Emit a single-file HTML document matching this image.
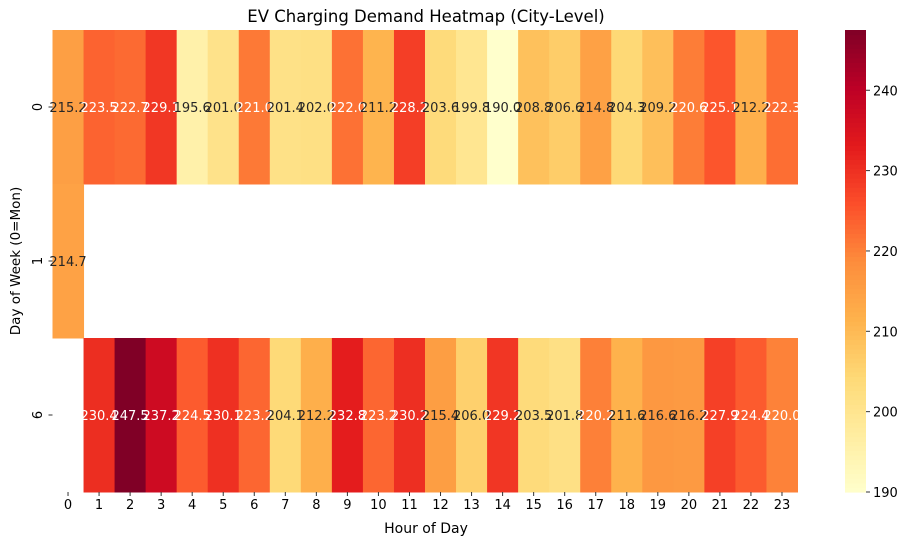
<!DOCTYPE html>
<html><head><meta charset="utf-8"><style>
body{margin:0;background:#fff;}
svg text{font-family:"DejaVu Sans","Liberation Sans",sans-serif;}
</style></head><body>
<svg id="chart" width="912" height="545" xmlns="http://www.w3.org/2000/svg">
<text x="426" y="22" text-anchor="middle" font-size="16.5">EV Charging Demand Heatmap (City-Level)</text>
<text x="426" y="533" text-anchor="middle" font-size="14">Hour of Day</text>
<text x="20" y="261" text-anchor="middle" font-size="13.5" transform="rotate(-90 20 261)">Day of Week (0=Mon)</text>
<g id="cells"></g><g id="xt"></g><g id="yt"></g><g id="cb"></g>
</svg>
<script>
const hours=[0,1,2,3,4,5,6,7,8,9,10,11,12,13,14,15,16,17,18,19,20,21,22,23];
const days=["0","1","6"];
const row0=[215.2,223.5,222.7,229.1,195.6,201.0,221.0,201.4,202.0,222.0,211.2,228.2,203.6,199.8,190.0,208.8,206.6,214.8,204.3,209.2,220.6,225.1,212.2,222.3];
const row1=[214.7,null,null,null,null,null,null,null,null,null,null,null,null,null,null,null,null,null,null,null,null,null,null,null];
const row6=[null,230.4,247.5,237.2,224.5,230.1,223.2,204.1,212.2,232.8,223.2,230.2,215.4,206.0,229.2,203.5,201.8,220.2,211.6,216.6,216.2,227.9,224.4,220.0];
const values=[row0,row1,row6];
const cbTicks=[190,200,210,220,230,240];
const vmin=190,vmax=247.5;
const L=52.5,R=797.5,T=30,B=492;
const cw=(R-L)/hours.length, rh=(B-T)/days.length;
const xPos=i=>L+i*cw, yPos=j=>T+j*rh;
const stops=["#ffffcc","#ffeda0","#fed976","#feb24c","#fd8d3c","#fc4e2a","#e31a1c","#bd0026","#800026"];
function hex(h){return [1,3,5].map(k=>parseInt(h.substr(k,2),16));}
function color(v){let t=Math.max(0,Math.min(1,(v-vmin)/(vmax-vmin)))*(stops.length-1);let i=Math.min(Math.floor(t),stops.length-2),f=t-i;let a=hex(stops[i]),b=hex(stops[i+1]);return "rgb("+a.map((x,k)=>Math.round(x+(b[k]-x)*f)).join(",")+")";}
const NS="http://www.w3.org/2000/svg";
function mk(tag,attrs,parent,txt){const e=document.createElementNS(NS,tag);for(const k in attrs)e.setAttribute(k,attrs[k]);if(txt!=null)e.textContent=txt;parent.appendChild(e);return e;}
const cells=document.getElementById('cells');
values.forEach((row,j)=>row.forEach((v,i)=>{if(v==null)return;
const r=mk('rect',{x:xPos(i),y:yPos(j),width:cw+0.5,height:rh+0.5,fill:color(v)},cells);


}));
values.forEach((row,j)=>row.forEach((v,i)=>{if(v==null)return;
const t=mk('text',{x:xPos(i)+cw/2,y:yPos(j)+rh/2+5,'text-anchor':'middle','font-size':'13',fill:v>218?'#fff':'#262626'},cells,v.toFixed(1));


}));
const xt=document.getElementById('xt');
hours.forEach((h,i)=>{const x=xPos(i)+cw/2;mk('line',{x1:x,x2:x,y1:B,y2:B+4,stroke:'#333'},xt);
const t=mk('text',{x:x,y:B+17,'text-anchor':'middle','font-size':'13'},xt,h);

});
const yt=document.getElementById('yt');
days.forEach((d,j)=>{const y=yPos(j)+rh/2;mk('line',{x1:L-4,x2:L,y1:y,y2:y,stroke:'#333'},yt);
const t=mk('text',{x:42,y:y,'text-anchor':'middle','font-size':'13',transform:'rotate(-90 42 '+y+')'},yt,d);

});
const cb=document.getElementById('cb');
const cx=845,cwid=21,N=100;
for(let k=0;k<N;k++){const v0=vmin+(vmax-vmin)*k/N;const y1=B-(B-T)*(k+1)/N;mk('rect',{x:cx,y:y1,width:cwid,height:(B-T)/N+0.6,fill:color(v0+(vmax-vmin)/N/2)},cb);}
cbTicks.forEach(v=>{const y=B-(v-vmin)/(vmax-vmin)*(B-T);mk('line',{x1:cx+cwid,x2:cx+cwid+4,y1:y,y2:y,stroke:'#333'},cb);
const t=mk('text',{x:cx+cwid+7,y:y+5,'font-size':'13'},cb,v);

});


</script>
</body></html>
